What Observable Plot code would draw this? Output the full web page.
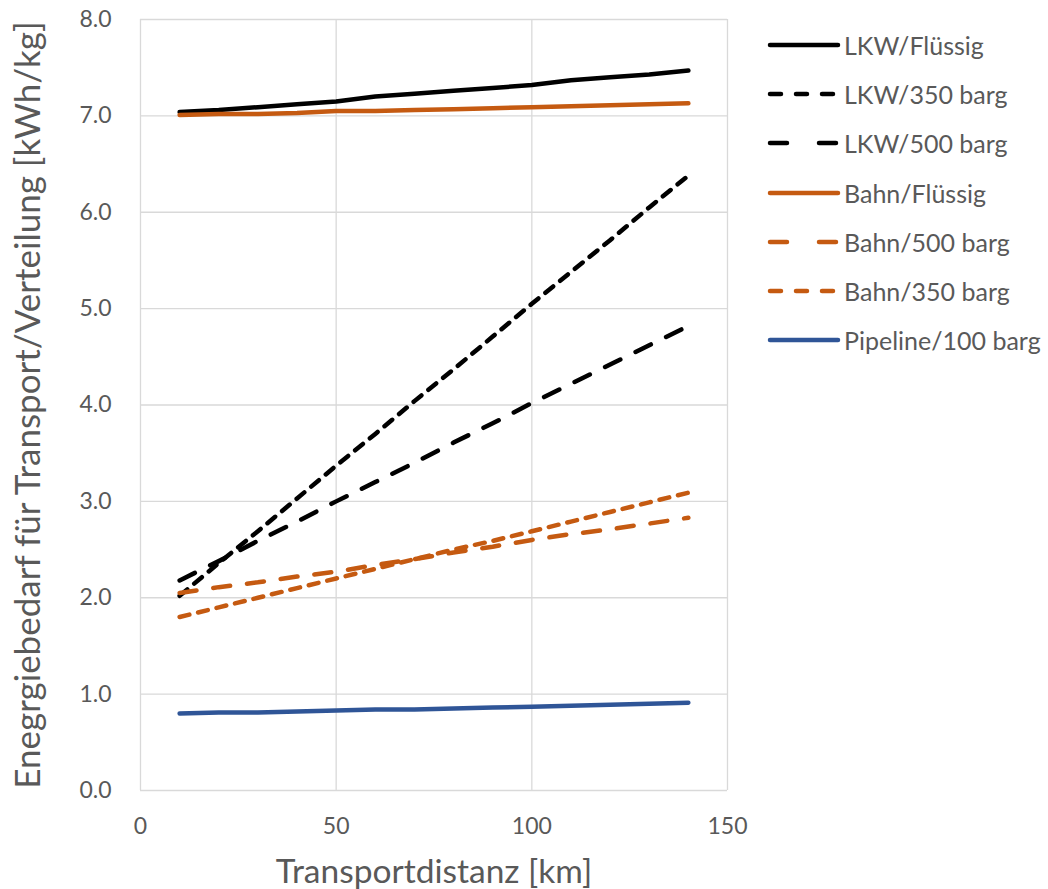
<!DOCTYPE html>
<html>
<head>
<meta charset="utf-8">
<script src="https://cdn.jsdelivr.net/npm/d3@7"></script>
<script src="https://cdn.jsdelivr.net/npm/@observablehq/plot@0.6"></script>
<style>
  html, body { margin: 0; padding: 0; background: #fff; }
  #wrap { position: relative; width: 1048px; height: 889px; font-family: Lato, "Open Sans", sans-serif; }
  #chart { position: absolute; left: 0; top: 0; }
  #legend { position: absolute; left: 766px; top: 20px; }
  .item { display: flex; align-items: center; height: 49.3px; color: #595959; font-size: 25px; white-space: nowrap; }
  .item svg { margin-right: 2px; }
</style>
</head>
<body>
<div id="wrap">
  <div id="chart"></div>
  <div id="legend"></div>
</div>
<script>
// ---- data ----
const distances = [10, 20, 30, 40, 50, 60, 70, 80, 90, 100, 110, 120, 130, 140];
const seriesNames = ["LKW/Flüssig", "LKW/350 barg", "LKW/500 barg", "Bahn/Flüssig", "Bahn/500 barg", "Bahn/350 barg", "Pipeline/100 barg"];
const lkwFluessig   = [7.04, 7.06, 7.09, 7.12, 7.15, 7.20, 7.23, 7.26, 7.29, 7.32, 7.37, 7.40, 7.43, 7.47];
const lkw350        = [2.02, 2.36, 2.69, 3.03, 3.37, 3.70, 4.04, 4.37, 4.71, 5.05, 5.38, 5.71, 6.05, 6.38];
const lkw500        = [2.18, 2.38, 2.59, 2.79, 3.00, 3.20, 3.40, 3.61, 3.81, 4.02, 4.22, 4.42, 4.62, 4.82];
const bahnFluessig  = [7.01, 7.02, 7.02, 7.03, 7.05, 7.05, 7.06, 7.07, 7.08, 7.09, 7.10, 7.11, 7.12, 7.13];
const bahn500       = [2.05, 2.11, 2.16, 2.22, 2.27, 2.34, 2.40, 2.47, 2.53, 2.60, 2.66, 2.71, 2.77, 2.83];
const bahn350       = [1.80, 1.90, 2.00, 2.10, 2.20, 2.30, 2.40, 2.50, 2.59, 2.69, 2.79, 2.89, 2.99, 3.09];
const pipeline100   = [0.80, 0.81, 0.81, 0.82, 0.83, 0.84, 0.84, 0.85, 0.86, 0.87, 0.88, 0.89, 0.90, 0.91];
const seriesValues = [lkwFluessig, lkw350, lkw500, bahnFluessig, bahn500, bahn350, pipeline100];
const xTicks = [0, 50, 100, 150];
const yTicks = [0, 1, 2, 3, 4, 5, 6, 7, 8];
const xLabel = "Transportdistanz [km]";
const yLabel = "Enegrgiebedarf für Transport/Verteilung [kWh/kg]";

// ---- styles ----
const BLACK = "#000000", ORANGE = "#C55A11", BLUE = "#2F5597";
const seriesColors = [BLACK, BLACK, BLACK, ORANGE, ORANGE, ORANGE, BLUE];
const seriesDash = [null, "10,9", "17,17", null, "17,17", "10,9", null];
const TEXT = "#595959", GRID = "#D9D9D9";

const rows = [];
seriesNames.forEach((name, i) => {
  distances.forEach((d, j) => rows.push({ series: name, idx: i, x: d, y: seriesValues[i][j] }));
});

const marks = [
  Plot.gridX(xTicks, { stroke: GRID, strokeOpacity: 1, strokeWidth: 1.3 }),
  Plot.gridY(yTicks, { stroke: GRID, strokeOpacity: 1, strokeWidth: 1.3 }),
  Plot.axisX(xTicks, { tickSize: 0, tickPadding: 27, fontSize: 23, fill: TEXT, label: xLabel, labelAnchor: "center", labelOffset: 92, labelArrow: "none" }),
  Plot.axisY(yTicks, { tickSize: 0, tickPadding: 29, fontSize: 23, fill: TEXT, tickFormat: d => d.toFixed(1), label: yLabel, labelAnchor: "center", labelOffset: 125, labelArrow: "none" })
];
seriesNames.forEach((name, i) => {
  marks.push(Plot.line(rows.filter(r => r.idx === i), {
    x: "x", y: "y", stroke: seriesColors[i], strokeWidth: 4.5,
    strokeDasharray: seriesDash[i] || undefined, strokeLinecap: "round", strokeLinejoin: "round"
  }));
});

const chart = Plot.plot({
  width: 750, height: 889,
  marginLeft: 140, marginRight: 23, marginTop: 19, marginBottom: 99,
  style: { fontFamily: "Lato, 'Open Sans', sans-serif", color: TEXT, background: "white", overflow: "visible" },
  x: { domain: [0, 150] },
  y: { domain: [0, 8] },
  marks
});
// enlarge axis labels
const setSize = (sel, px) => chart.querySelectorAll(sel).forEach(el => { el.setAttribute("font-size", px); el.style.fontSize = px + "px"; });
setSize("g[aria-label='x-axis label'], g[aria-label='x-axis label'] text", 33.5);
setSize("g[aria-label='y-axis label'], g[aria-label='y-axis label'] text", 35);
document.getElementById("chart").appendChild(chart);

// ---- legend ----
const legend = document.getElementById("legend");
seriesNames.forEach((name, i) => {
  const item = document.createElement("div");
  item.className = "item";
  const ns = "http://www.w3.org/2000/svg";
  const svg = document.createElementNS(ns, "svg");
  svg.setAttribute("width", 76); svg.setAttribute("height", 12);
  const ln = document.createElementNS(ns, "line");
  ln.setAttribute("x1", 4); ln.setAttribute("x2", 72); ln.setAttribute("y1", 6); ln.setAttribute("y2", 6);
  ln.setAttribute("stroke", seriesColors[i]); ln.setAttribute("stroke-width", 4.5);
  ln.setAttribute("stroke-linecap", "round");
  if (seriesDash[i]) ln.setAttribute("stroke-dasharray", i === 2 || i === 4 ? "17,32" : "11,15");
  svg.appendChild(ln);
  item.appendChild(svg);
  const span = document.createElement("span");
  span.textContent = name;
  item.appendChild(span);
  legend.appendChild(item);
});
</script>
</body>
</html>
